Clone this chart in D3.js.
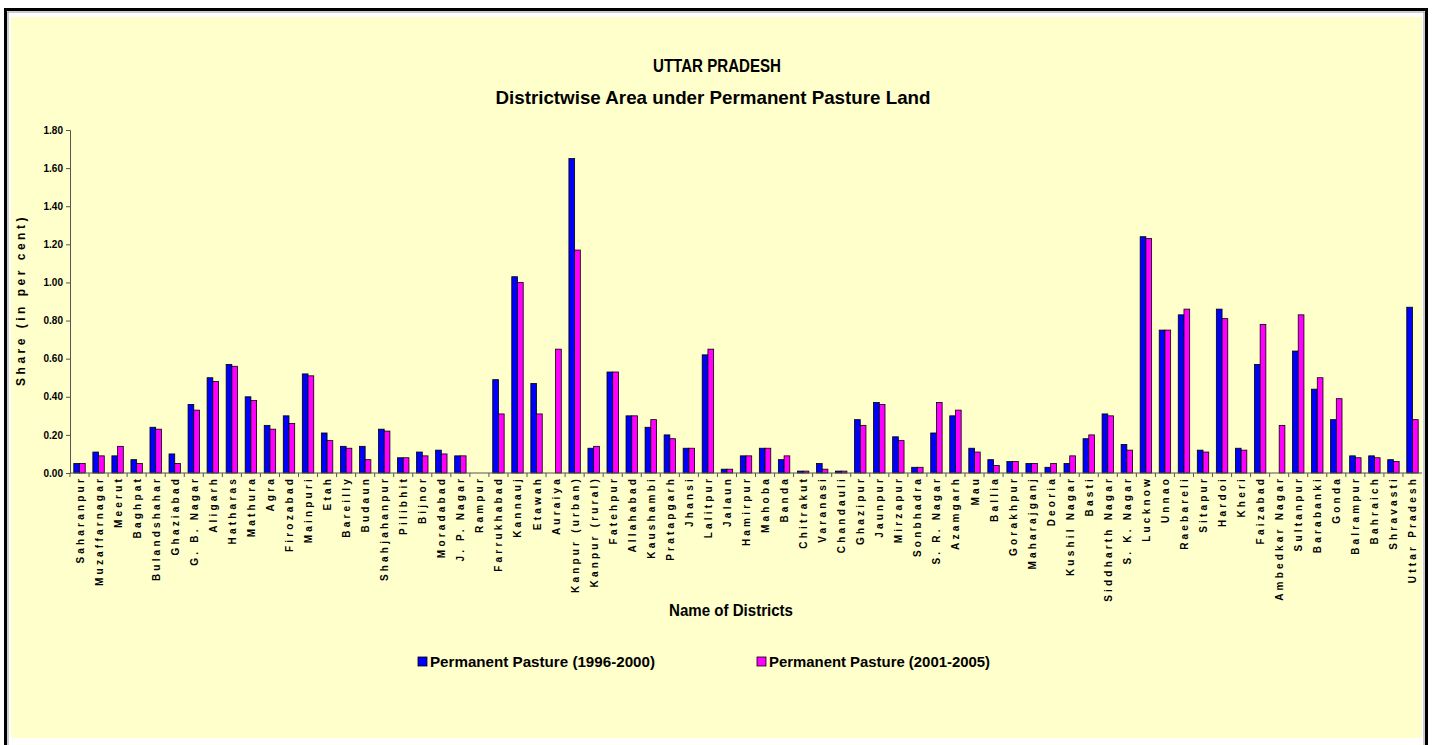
<!DOCTYPE html>
<html>
<head>
<meta charset="utf-8">
<script src="https://cdn.jsdelivr.net/npm/d3@7/dist/d3.min.js"></script>
<style>
  body { margin: 0; background: #ffffff; }
  svg text { font-family: "Liberation Sans", Arial, sans-serif; font-weight: bold; fill: #000; }
</style>
</head>
<body>
<div id="bar_chart"></div>
<script>
var districts = ["Saharanpur", "Muzaffarnagar", "Meerut", "Baghpat", "Bulandshahar", "Ghaziabad",
  "G. B. Nagar", "Aligarh", "Hatharas", "Mathura", "Agra", "Firozabad", "Mainpuri", "Etah",
  "Bareilly", "Budaun", "Shahjahanpur", "Pilibhit", "Bijnor", "Moradabad", "J. P. Nagar", "Rampur",
  "Farrukhabad", "Kannauj", "Etawah", "Auraiya", "Kanpur (urban)", "Kanpur (rural)", "Fatehpur",
  "Allahabad", "Kaushambi", "Pratapgarh", "Jhansi", "Lalitpur", "Jalaun", "Hamirpur", "Mahoba",
  "Banda", "Chitrakut", "Varanasi", "Chandauli", "Ghazipur", "Jaunpur", "Mirzapur", "Sonbhadra",
  "S. R. Nagar", "Azamgarh", "Mau", "Ballia", "Gorakhpur", "Maharajganj", "Deoria", "Kushil Nagar",
  "Basti", "Siddharth Nagar", "S. K. Nagar", "Lucknow", "Unnao", "Raebareli", "Sitapur", "Hardoi",
  "Kheri", "Faizabad", "Ambedkar Nagar", "Sultanpur", "Barabanki", "Gonda", "Balrampur", "Bahraich",
  "Shravasti", "Uttar Pradesh"];

var pasture9600 = [0.05, 0.11, 0.09, 0.07, 0.24, 0.10,
  0.36, 0.50, 0.57, 0.40, 0.25, 0.30, 0.52, 0.21,
  0.14, 0.14, 0.23, 0.08, 0.11, 0.12, 0.09, null,
  0.49, 1.03, 0.47, null, 1.65, 0.13, 0.53,
  0.30, 0.24, 0.20, 0.13, 0.62, 0.02, 0.09, 0.13,
  0.07, 0.01, 0.05, 0.01, 0.28, 0.37, 0.19, 0.03,
  0.21, 0.30, 0.13, 0.07, 0.06, 0.05, 0.03, 0.05,
  0.18, 0.31, 0.15, 1.24, 0.75, 0.83, 0.12, 0.86,
  0.13, 0.57, null, 0.64, 0.44, 0.28, 0.09, 0.09,
  0.07, 0.87];

var pasture0105 = [0.05, 0.09, 0.14, 0.05, 0.23, 0.05,
  0.33, 0.48, 0.56, 0.38, 0.23, 0.26, 0.51, 0.17,
  0.13, 0.07, 0.22, 0.08, 0.09, 0.10, 0.09, null,
  0.31, 1.00, 0.31, 0.65, 1.17, 0.14, 0.53,
  0.30, 0.28, 0.18, 0.13, 0.65, 0.02, 0.09, 0.13,
  0.09, 0.01, 0.02, 0.01, 0.25, 0.36, 0.17, 0.03,
  0.37, 0.33, 0.11, 0.04, 0.06, 0.05, 0.05, 0.09,
  0.20, 0.30, 0.12, 1.23, 0.75, 0.86, 0.11, 0.81,
  0.12, 0.78, 0.25, 0.83, 0.50, 0.39, 0.08, 0.08,
  0.06, 0.28];

var seriesNames = ["Permanent Pasture (1996-2000)", "Permanent Pasture (2001-2005)"];
var seriesColors = ["#0000ff", "#ff00ff"];
var yTicks = [0, 0.2, 0.4, 0.6, 0.8, 1.0, 1.2, 1.4, 1.6, 1.8];

var W = 1435, H = 745;
var plot = {left: 70, right: 1422, top: 130, bottom: 473};

var svg = d3.select("#bar_chart")
  .append("svg")
    .attr("width", W)
    .attr("height", H);

// frame
svg.append("rect")
  .attr("x", 5.5).attr("y", 9.5)
  .attr("width", 1421).attr("height", 745)
  .attr("fill", "#ffffff")
  .attr("stroke", "#000").attr("stroke-width", 3);
svg.append("rect")
  .attr("x", 8).attr("y", 12)
  .attr("width", 1416).attr("height", 740)
  .attr("fill", "none")
  .attr("stroke", "#999").attr("stroke-width", 1);
svg.append("rect")
  .attr("x", 11).attr("y", 17)
  .attr("width", 1411).attr("height", 721)
  .attr("fill", "#ffffcc");

// titles (narrow bold look via textLength)
svg.append("text")
  .attr("x", 717).attr("y", 72)
  .attr("text-anchor", "middle")
  .attr("textLength", 128)
  .attr("lengthAdjust", "spacingAndGlyphs")
  .style("font-size", "19px")
  .text("UTTAR PRADESH");
svg.append("text")
  .attr("x", 713).attr("y", 104)
  .attr("text-anchor", "middle")
  .attr("textLength", 435)
  .attr("lengthAdjust", "spacingAndGlyphs")
  .style("font-size", "19px")
  .text("Districtwise Area under Permanent Pasture Land");

// scales
var x = d3.scaleBand()
  .domain(districts)
  .range([plot.left, plot.right])
  .padding(0);

var xSub = d3.scaleBand()
  .domain([0, 1])
  .range([x.step() * 0.2, x.step() * 0.8])
  .padding(0);

var y = d3.scaleLinear()
  .domain([0, 1.8])
  .range([plot.bottom, plot.top]);

// y axis
var yAxis = svg.append("g")
  .attr("transform", "translate(" + plot.left + ",0)")
  .call(d3.axisLeft(y).tickValues(yTicks).tickFormat(d3.format(".2f")).tickSize(4).tickPadding(3));
yAxis.select(".domain").attr("stroke", "#555");
yAxis.selectAll(".tick line").attr("stroke", "#555");
yAxis.selectAll("text")
  .style("font-size", "10px")
  .style("font-weight", "bold");

// bars
var groups = svg.selectAll(".grp")
  .data(districts)
  .enter()
  .append("g")
    .attr("class", "grp")
    .attr("transform", function(d) { return "translate(" + x(d) + ",0)"; });

groups.selectAll("rect")
  .data(function(d, i) {
    return [
      {s: 0, v: pasture9600[i]},
      {s: 1, v: pasture0105[i]}
    ].filter(function(e) { return e.v !== null; });
  })
  .enter()
  .append("rect")
    .attr("x", function(e) { return xSub(e.s); })
    .attr("y", function(e) { return y(e.v); })
    .attr("width", xSub.bandwidth())
    .attr("height", function(e) { return plot.bottom - y(e.v); })
    .attr("fill", function(e) { return seriesColors[e.s]; })
    .attr("stroke", "#000")
    .attr("stroke-width", 0.8);

// x axis: ticks between categories
var xAxis = svg.append("g")
  .attr("transform", "translate(0," + plot.bottom + ")");
xAxis.append("line")
  .attr("x1", plot.left).attr("x2", plot.right)
  .attr("y1", 0).attr("y2", 0)
  .attr("stroke", "#555");
xAxis.selectAll(".xt")
  .data(districts)
  .enter()
  .append("line")
    .attr("x1", function(d) { return x(d); })
    .attr("x2", function(d) { return x(d); })
    .attr("y1", 0).attr("y2", 4)
    .attr("stroke", "#555");
xAxis.selectAll(".xl")
  .data(districts)
  .enter()
  .append("text")
    .attr("transform", function(d) {
      return "translate(" + (x(d) + x.bandwidth() / 2 + 4) + ",3)rotate(-90)";
    })
    .attr("text-anchor", "end")
    .style("font-size", "10px")
    .style("letter-spacing", "3.2px")
    .text(function(d) { return d; });

// axis titles
svg.append("text")
  .attr("transform", "translate(25,300)rotate(-90)")
  .attr("text-anchor", "middle")
  .style("font-size", "12px")
  .style("letter-spacing", "3.5px")
  .text("Share (in per cent)");

svg.append("text")
  .attr("x", 731).attr("y", 616)
  .attr("text-anchor", "middle")
  .attr("textLength", 124)
  .attr("lengthAdjust", "spacingAndGlyphs")
  .style("font-size", "16px")
  .text("Name of Districts");

// legend
var legendX = [418, 757];
var legendW = [225, 221];
var legend = svg.selectAll(".leg")
  .data(seriesNames)
  .enter()
  .append("g")
    .attr("transform", function(d, i) { return "translate(" + legendX[i] + ",657)"; });
legend.append("rect")
  .attr("width", 9).attr("height", 9)
  .attr("fill", function(d, i) { return seriesColors[i]; })
  .attr("stroke", "#000").attr("stroke-width", 0.8);
legend.append("text")
  .attr("x", 12).attr("y", 10)
  .attr("textLength", function(d, i) { return legendW[i]; })
  .attr("lengthAdjust", "spacingAndGlyphs")
  .style("font-size", "15px")
  .text(function(d) { return d; });
</script>
</body>
</html>
